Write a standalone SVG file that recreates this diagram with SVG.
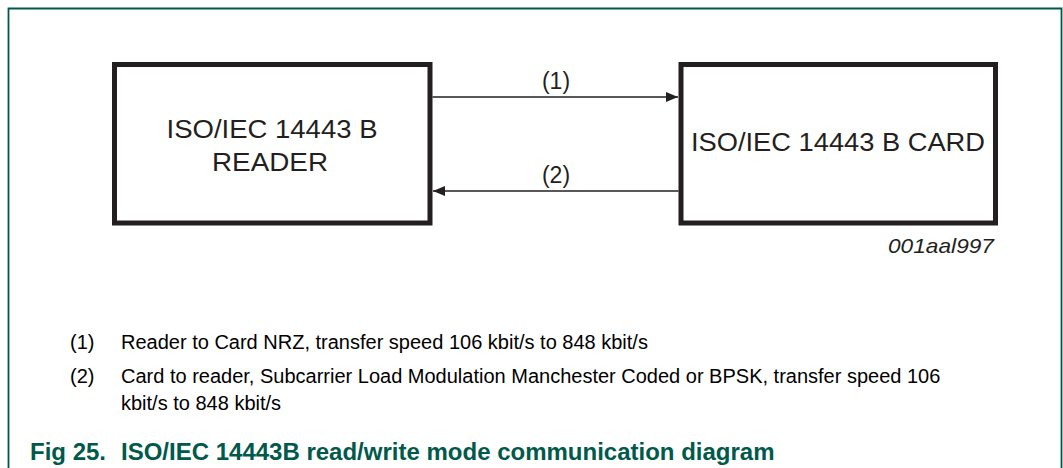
<svg xmlns="http://www.w3.org/2000/svg" width="1063" height="468" viewBox="0 0 1063 468">
<style>
.frame{fill:none;stroke:#00594a;stroke-width:1.8}
.box{fill:#fff;stroke:#231f20;stroke-width:5}
.bt{font-family:"Liberation Sans",Arial,sans-serif;font-size:25px;fill:#231f20;text-anchor:middle}
.lbl{font-family:"Liberation Sans",Arial,sans-serif;font-size:23px;fill:#231f20;text-anchor:middle}
.id{font-family:"Liberation Sans",Arial,sans-serif;font-size:21px;font-style:italic;fill:#231f20;text-anchor:end}
.note{font-family:"Liberation Sans",Arial,sans-serif;font-size:20px;fill:#000}
.cap{font-family:"Liberation Sans",Arial,sans-serif;font-size:24px;font-weight:bold;fill:#00594a}
.conn{stroke:#231f20;stroke-width:1.5;fill:none}
</style>
<defs>
<marker id="arr" markerWidth="12" markerHeight="10" refX="12" refY="5" orient="auto" markerUnits="userSpaceOnUse">
<path d="M0,0 L12,5 L0,10 Z" fill="#231f20"/>
</marker>
</defs>
<path class="frame" d="M8.5,468 V8.5 H1061.5 V468"/>
<g id="reader">
<rect class="box" x="114.5" y="64.5" width="315.5" height="158.5"/>
<text class="bt" x="272" y="137.5" textLength="211" lengthAdjust="spacingAndGlyphs">ISO/IEC 14443 B</text>
<text class="bt" x="270" y="170.5" textLength="116" lengthAdjust="spacingAndGlyphs">READER</text>
</g>
<g id="card">
<rect class="box" x="681" y="64.5" width="314.5" height="158.5"/>
<text class="bt" x="838" y="151" textLength="294" lengthAdjust="spacingAndGlyphs">ISO/IEC 14443 B CARD</text>
</g>
<g id="connectors">
<line class="conn" x1="432.5" y1="97" x2="678" y2="97" marker-end="url(#arr)"/>
<line class="conn" x1="678.5" y1="191" x2="433" y2="191" marker-end="url(#arr)"/>
<text class="lbl" x="556" y="89">(1)</text>
<text class="lbl" x="556" y="183">(2)</text>
</g>
<text class="id" x="994" y="253" textLength="106" lengthAdjust="spacingAndGlyphs">001aal997</text>
<g id="notes">
<text class="note" x="70" y="349">(1)</text>
<text class="note" x="121" y="349">Reader to Card NRZ, transfer speed 106 kbit/s to 848 kbit/s</text>
<text class="note" x="70" y="383">(2)</text>
<text class="note" x="121" y="383">Card to reader, Subcarrier Load Modulation Manchester Coded or BPSK, transfer speed 106</text>
<text class="note" x="121" y="410">kbit/s to 848 kbit/s</text>
</g>
<g id="caption">
<text class="cap" x="30" y="460">Fig 25.</text>
<text class="cap" x="121" y="460">ISO/IEC 14443B read/write mode communication diagram</text>
</g>
</svg>
